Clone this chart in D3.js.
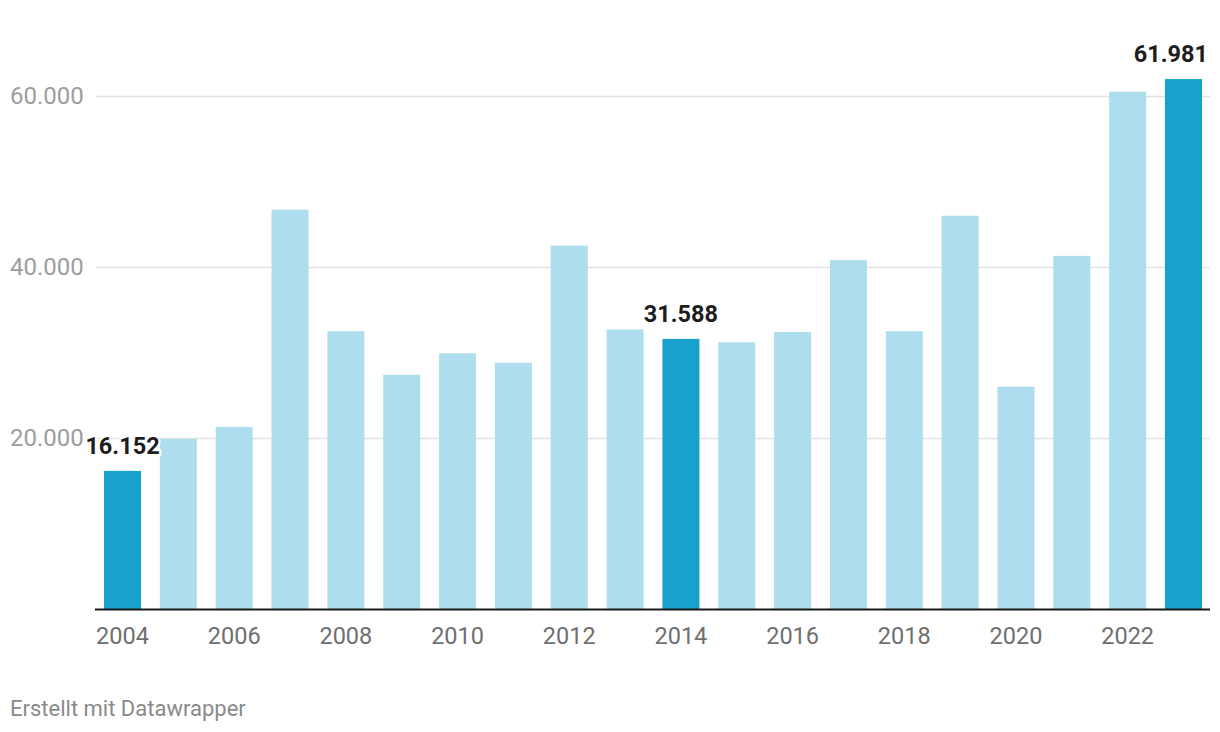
<!DOCTYPE html>
<html>
<head>
<meta charset="utf-8">
<script src="https://cdn.jsdelivr.net/npm/d3@7"></script>
<style>
  body { margin: 0; background: #fff; }
  svg { font-family: Roboto, "Noto Sans", sans-serif; }
</style>
</head>
<body>
<svg width="1220" height="732"></svg>
<script>
var years = ["2004","2005","2006","2007","2008","2009","2010","2011","2012","2013",
             "2014","2015","2016","2017","2018","2019","2020","2021","2022","2023"];
var values = [16152, 19900, 21300, 46700, 32500, 27400, 29900, 28800, 42500, 32700,
              31588, 31200, 32400, 40800, 32500, 46000, 26000, 41300, 60500, 61981];
var highlighted = ["2004", "2014", "2023"];
var yTicks = [20000, 40000, 60000];
var xTickYears = ["2004","2006","2008","2010","2012","2014","2016","2018","2020","2022"];

var fmt = d3.format(",.0f");
var de = function (v) { return fmt(v).replace(/,/g, "."); };

var svg = d3.select("svg");
var gridLeft = 96, gridRight = 1210;

var x = d3.scaleBand()
    .domain(years)
    .range([104, 1202])
    .paddingInner(0.337)
    .paddingOuter(0);

var y = d3.scaleLinear()
    .domain([0, 60000])
    .range([609, 96]);

// gridlines
svg.append("g").selectAll("line")
  .data(yTicks)
  .enter().append("line")
    .attr("x1", gridLeft)
    .attr("x2", gridRight)
    .attr("y1", function (d) { return Math.round(y(d)) + 0.5; })
    .attr("y2", function (d) { return Math.round(y(d)) + 0.5; })
    .attr("stroke", "#e3e3e3")
    .attr("stroke-width", 1.5);

svg.append("g").selectAll("text")
  .data(yTicks)
  .enter().append("text")
    .attr("x", 10)
    .attr("y", function (d) { return y(d) + 8; })
    .attr("fill", "#9d9d9d")
    .style("font-size", "24px")
    .text(de);

// bars
svg.append("g").selectAll("rect")
  .data(values)
  .enter().append("rect")
    .attr("x", function (d, i) { return x(years[i]); })
    .attr("width", x.bandwidth())
    .attr("y", function (d) { return y(d); })
    .attr("height", function (d) { return y(0) - y(d); })
    .attr("fill", function (d, i) { return highlighted.indexOf(years[i]) >= 0 ? "#18a1cd" : "#aedeed"; });

// baseline
svg.append("line")
    .attr("x1", 95).attr("x2", gridRight)
    .attr("y1", 609.5).attr("y2", 609.5)
    .attr("stroke", "#1a1a1a")
    .attr("stroke-width", 2);

// x axis labels
svg.append("g").selectAll("text")
  .data(xTickYears)
  .enter().append("text")
    .attr("x", function (d) { return x(d) + x.bandwidth() / 2; })
    .attr("y", 644)
    .attr("text-anchor", "middle")
    .attr("fill", "#6f6f6f")
    .style("font-size", "23.5px")
    .text(function (d) { return d; });

// value labels on highlighted bars, kept inside the chart on the right
svg.append("g").selectAll("text")
  .data(highlighted)
  .enter().append("text")
    .attr("x", function (d) { return x(d) + x.bandwidth() / 2; })
    .attr("y", function (d) { return y(values[years.indexOf(d)]) - 17; })
    .attr("text-anchor", "middle")
    .attr("fill", "#1d1d1d")
    .attr("stroke", "#fff")
    .attr("stroke-width", 4)
    .attr("paint-order", "stroke")
    .style("font-size", "23.5px")
    .style("font-weight", "700")
    .text(function (d) { return de(values[years.indexOf(d)]); })
    .each(function (d) {
      var w = this.getComputedTextLength();
      var cx = x(d) + x.bandwidth() / 2;
      if (cx + w / 2 > 1208) d3.select(this).attr("x", 1208 - w / 2);
    });

svg.append("text")
    .attr("x", 10)
    .attr("y", 716)
    .attr("fill", "#8a8a8a")
    .style("font-size", "22px")
    .text("Erstellt mit Datawrapper");
</script>
</body>
</html>
